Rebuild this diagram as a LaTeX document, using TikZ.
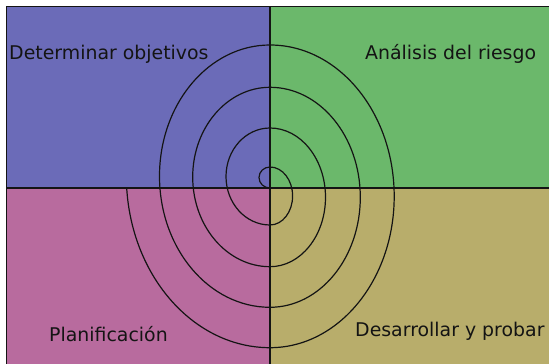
\documentclass[tikz,border=0pt]{standalone}
\usepackage{fontspec}
\setmainfont{DejaVu Sans}
\definecolor{qblue}{RGB}{107,107,184}
\definecolor{qgreen}{RGB}{107,184,107}
\definecolor{qpink}{RGB}{184,107,158}
\definecolor{qkhaki}{RGB}{184,173,107}
\definecolor{qline}{RGB}{20,20,20}
\tikzset{
  divider/.style={draw=qline, line width=1.5pt},
  spiralline/.style={draw=qline, line width=1.2pt},
  label/.style={anchor=base west, inner sep=0pt, font=\fontsize{18.9}{22}\selectfont, text=qline}
}
\begin{document}
\begin{tikzpicture}[x=1pt,y=1pt]
\useasboundingbox (0,0) rectangle (549,364);
\fill[white] (0,0) rectangle (549,364);
% quadrants
\fill[qblue]  (6.7,176) rectangle (270,357.3);
\fill[qgreen] (270,176) rectangle (552,357.3);
\fill[qpink]  (6.7,-3) rectangle (270,176);
\fill[qkhaki] (270,-3) rectangle (552,176);
% spiral
\draw[spiralline] (270,176)
  arc[start angle=270, end angle=90, x radius=11, y radius=10.5]
  arc[start angle=90, end angle=-90, x radius=22.6, y radius=29]
  arc[start angle=270, end angle=90, x radius=44, y radius=48.5]
  arc[start angle=90, end angle=-90, x radius=55.5, y radius=69.35]
  arc[start angle=270, end angle=90, x radius=77.3, y radius=89.7]
  arc[start angle=90, end angle=-90, x radius=90.3, y radius=110]
  arc[start angle=270, end angle=90, x radius=110.5, y radius=131.15]
  arc[start angle=90, end angle=-90, x radius=124.2, y radius=151.35]
  arc[start angle=270, end angle=184.16, x radius=143.7, y radius=172.2];
% dividers and border
\draw[divider] (6.7,-3) -- (6.7,357.3) -- (552,357.3);
\draw[divider] (270,-3) -- (270,357.3);
\draw[divider] (6.7,176) -- (552,176);
% labels
\node[label] (obj) at (9,304) {Determinar objetivos};
\node[label] (risk) at (365,304) {Análisis del riesgo};
\node[label] (plan) at (49,22.3) {Planificación};
\node[label] (dev) at (355,27) {Desarrollar y probar};
\end{tikzpicture}
\end{document}
